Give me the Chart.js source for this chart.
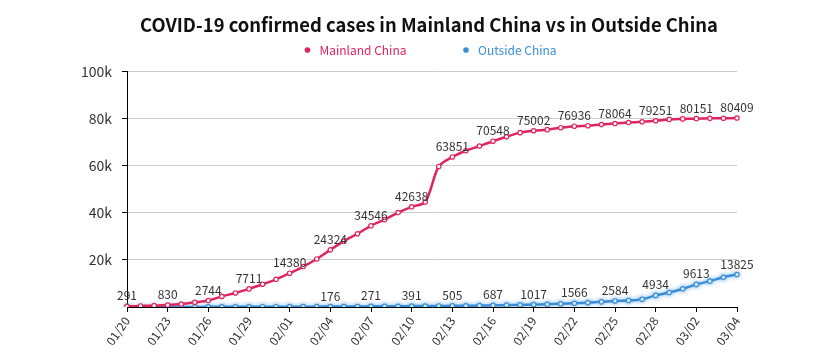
<!DOCTYPE html>
<html>
<head>
<meta charset="utf-8">
<script src="https://cdn.jsdelivr.net/npm/chart.js@4.4.1/dist/chart.umd.min.js"></script>
<style>
html,body{margin:0;padding:0;background:#fff;}
#wrap{width:825px;height:353px;}
</style>
</head>
<body>
<div id="wrap"><canvas id="c" width="825" height="353"></canvas></div>
<script>
const titleText = "COVID-19 confirmed cases in Mainland China vs in Outside China";
const seriesNames = ["Mainland China", "Outside China"];
const seriesColors = ["#e0245e", "#3a8fd9"];

const dates = ["01/20","01/21","01/22","01/23","01/24","01/25","01/26","01/27","01/28","01/29","01/30","01/31",
  "02/01","02/02","02/03","02/04","02/05","02/06","02/07","02/08","02/09","02/10","02/11","02/12","02/13","02/14",
  "02/15","02/16","02/17","02/18","02/19","02/20","02/21","02/22","02/23","02/24","02/25","02/26","02/27","02/28",
  "02/29","03/01","03/02","03/03","03/03","03/04"];

const mainland = [291,440,571,830,1287,1975,2744,4515,5974,7711,9692,11791,
  14380,17205,20438,24324,28018,31161,34546,37198,40171,42638,44653,59804,63851,66492,
  68500,70548,72436,74185,75002,75465,76288,76936,77150,77658,78064,78497,78824,79251,
  79824,80026,80151,80270,80303,80409];

const outside = [6,8,10,17,28,40,56,66,82,96,118,132,
  146,153,159,176,191,216,271,299,320,391,410,447,505,531,
  600,687,794,904,1017,1154,1372,1566,1860,2184,2584,2750,3300,4934,
  6141,7754,9613,10998,12660,13825];

// indices of points that carry a value label
const mainlandLabelIdx = [0,3,6,9,12,15,18,21,24,27,30,33,36,39,42,45];
const outsideLabelIdx = [15,18,21,24,27,30,33,36,39,42,45];
const xLabelIdx = [0,3,6,9,12,15,18,21,24,27,30,33,36,39,42,45];

const yMax = 100000, yStep = 20000;

const FONT = "'Noto Sans CJK SC','Noto Sans',sans-serif";
Chart.defaults.font.family = FONT;

const valueLabels = {
  id: 'valueLabels',
  afterDatasetsDraw(chart) {
    const ctx = chart.ctx;
    const sets = [mainlandLabelIdx, outsideLabelIdx];
    ctx.save();
    ctx.font = "12px " + FONT;
    ctx.fillStyle = "#333";
    ctx.textAlign = "center";
    ctx.textBaseline = "alphabetic";
    chart.data.datasets.forEach((ds, di) => {
      const meta = chart.getDatasetMeta(di);
      sets[di].forEach(i => {
        const p = meta.data[i];
        if (!p) return;
        ctx.fillText(String(ds.data[i]), p.x, p.y - 6);
      });
    });
    ctx.restore();
  }
};

const glow = {
  id: 'glow',
  beforeDatasetDraw(chart, args) {
    if (args.index === 1) {
      chart.ctx.save();
      chart.ctx.shadowColor = "rgba(58,143,217,0.55)";
      chart.ctx.shadowBlur = 4;
    }
  },
  afterDatasetDraw(chart, args) {
    if (args.index === 1) chart.ctx.restore();
  }
};

new Chart(document.getElementById('c'), {
  type: 'line',
  data: {
    labels: dates,
    datasets: [
      {
        label: seriesNames[0], data: mainland,
        borderColor: seriesColors[0], backgroundColor: seriesColors[0],
        borderWidth: 2.5, tension: 0.3,
        pointRadius: 2.2, pointBorderWidth: 1.2,
        pointBackgroundColor: "#fff", pointBorderColor: seriesColors[0]
      },
      {
        label: seriesNames[1], data: outside,
        borderColor: seriesColors[1], backgroundColor: seriesColors[1],
        borderWidth: 2.5, tension: 0.3,
        pointRadius: 2.2, pointBorderWidth: 1.2,
        pointBackgroundColor: "#fff", pointBorderColor: seriesColors[1]
      }
    ]
  },
  options: {
    responsive: false,
    animation: false,
    devicePixelRatio: 1,
    layout: { padding: { left: 33, right: 0, top: 0, bottom: 0 } },
    plugins: {
      title: {
        display: true, text: titleText, color: "#111",
        font: { size: 18.4, weight: 'bold', family: FONT },
        padding: { top: 13.5, bottom: 4 }
      },
      legend: {
        display: true,
        title: { display: true, text: ' ', padding: { top: -63.5, bottom: 0 }, font: { size: 12 } },
        labels: {
          usePointStyle: true, pointStyle: 'circle',
          boxWidth: 12, boxHeight: 4, padding: 53.5,
          font: { size: 12, family: FONT },
          generateLabels(chart) {
            return chart.data.datasets.map((ds, i) => ({
              text: ds.label, fillStyle: seriesColors[i], strokeStyle: seriesColors[i],
              fontColor: seriesColors[i], lineWidth: 0, pointStyle: 'circle',
              hidden: false, datasetIndex: i
            }));
          }
        }
      },
      tooltip: { enabled: false }
    },
    scales: {
      x: {
        type: 'category',
        grid: { display: true, drawOnChartArea: false, drawTicks: true, tickLength: 5, tickColor: "#000" },
        border: { display: true, color: "#000", width: 1 },
        ticks: {
          autoSkip: false, maxRotation: 55, minRotation: 55, padding: 2,
          color: "#333", font: { size: 12, family: FONT },
          callback(val, idx) { return xLabelIdx.includes(idx) ? dates[idx] : null; }
        },
        afterFit(s) { s.height = 46; }
      },
      xTop: {
        type: 'category', position: 'top', display: true,
        grid: { display: false }, border: { display: false },
        ticks: { display: false },
        afterFit(s) { s.height = 6; }
      },
      y: {
        min: 0, max: yMax,
        grid: { color: "#cccccc", tickLength: 5, tickColor: "#000" },
        border: { display: true, color: "#000", width: 1 },
        ticks: {
          stepSize: yStep, padding: 10, color: "#333", font: { size: 14, family: FONT },
          callback(v) { return v === 0 ? null : (v / 1000) + 'k'; }
        },
        afterFit(s) { s.width = 94; }
      },
      yRight: {
        position: 'right', display: true,
        grid: { display: false }, border: { display: false },
        ticks: { display: false },
        afterFit(s) { s.width = 88; }
      }
    }
  },
  plugins: [glow, valueLabels]
});
</script>
</body>
</html>
